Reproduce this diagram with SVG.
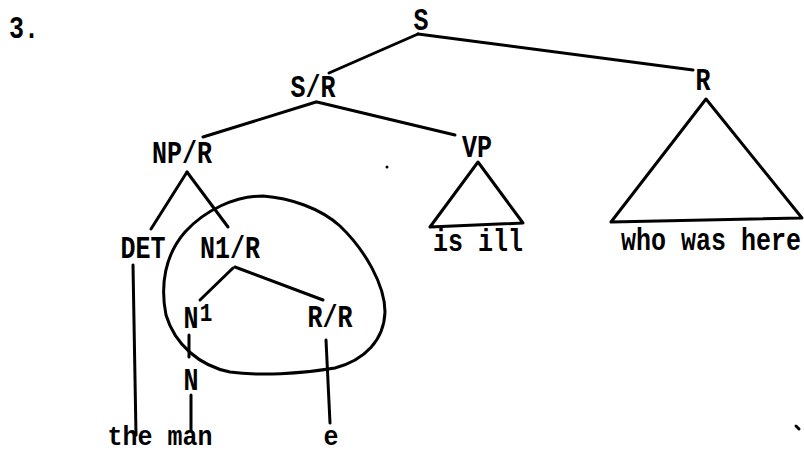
<svg xmlns="http://www.w3.org/2000/svg" width="804" height="455" viewBox="0 0 804 455">
<style>
.t{font-family:"Liberation Mono","Courier New",monospace;font-weight:bold;font-size:25px;fill:#000;text-anchor:middle}
.l{stroke:#000;stroke-width:3;fill:none;stroke-linecap:round;stroke-linejoin:round}
</style>
<rect width="804" height="455" fill="#fff"/>
<text class="t" transform="translate(24,38) scale(1,1.25)">3.</text>
<g id="connectors">
<line class="l" x1="418" y1="34" x2="329" y2="73"/>
<line class="l" x1="418" y1="34" x2="693" y2="70"/>
<line class="l" x1="316" y1="102" x2="203" y2="137"/>
<line class="l" x1="317" y1="102" x2="455" y2="135"/>
<line class="l" x1="187" y1="172" x2="151" y2="229"/>
<line class="l" x1="187" y1="172" x2="228" y2="227"/>
<line class="l" x1="233" y1="268" x2="200" y2="300"/>
<line class="l" x1="235" y1="267" x2="323" y2="300"/>
<line class="l" x1="189" y1="335" x2="189" y2="357"/>
<line class="l" x1="191" y1="395" x2="191" y2="431"/>
<line class="l" x1="326" y1="340" x2="330" y2="423"/>
<line class="l" x1="133" y1="265" x2="136" y2="435"/>
</g>
<g id="S"><text class="t" transform="translate(421,30) scale(1,1.25)">S</text></g>
<g id="SR"><text class="t" transform="translate(313,97) scale(1,1.25)">S/R</text></g>
<g id="R">
<text class="t" transform="translate(703,90) scale(1,1.25)">R</text>
<polygon class="l" points="706,99 611,222 802,218"/>
<text class="t" transform="translate(711,250) scale(1,1.25)">who was here</text>
</g>
<g id="NPR"><text class="t" transform="translate(182,163) scale(1,1.25)">NP/R</text></g>
<g id="VP">
<text class="t" transform="translate(477,157) scale(1,1.25)">VP</text>
<polygon class="l" points="478,162 430,227 523,223"/>
<text class="t" transform="translate(478,251) scale(1,1.25)">is ill</text>
</g>
<g id="DET"><text class="t" transform="translate(143,258) scale(1,1.25)">DET</text></g>
<g id="N1R"><text class="t" transform="translate(230,258) scale(1,1.25)">N1/R</text></g>
<g id="N1"><text class="t" transform="translate(191,328) scale(1,1.25)">N</text><text class="t" transform="translate(206,321) scale(1,1.25)" style="font-size:21px">1</text></g>
<g id="RR"><text class="t" transform="translate(330,327) scale(1,1.25)">R/R</text></g>
<g id="N"><text class="t" transform="translate(191,390) scale(1,1.25)">N</text></g>
<g id="the-man"><text class="t" transform="translate(160,445) scale(1,1.1)">the man</text></g>
<g id="e"><text class="t" transform="translate(331,445) scale(1,1.1)">e</text></g>
<g id="circle">
<path class="l" d="M263,196 C290,198 320,208 340,226 C365,250 385,285 385,312 C384,340 365,360 335,368 C300,374 260,376 230,372 C200,366 175,345 166,315 C160,285 165,255 185,232 C205,210 235,196 263,196 Z"/>
</g>
<circle cx="387" cy="167" r="1.5" fill="#000"/>
<line class="l" x1="796" y1="426" x2="799" y2="429"/>
</svg>
